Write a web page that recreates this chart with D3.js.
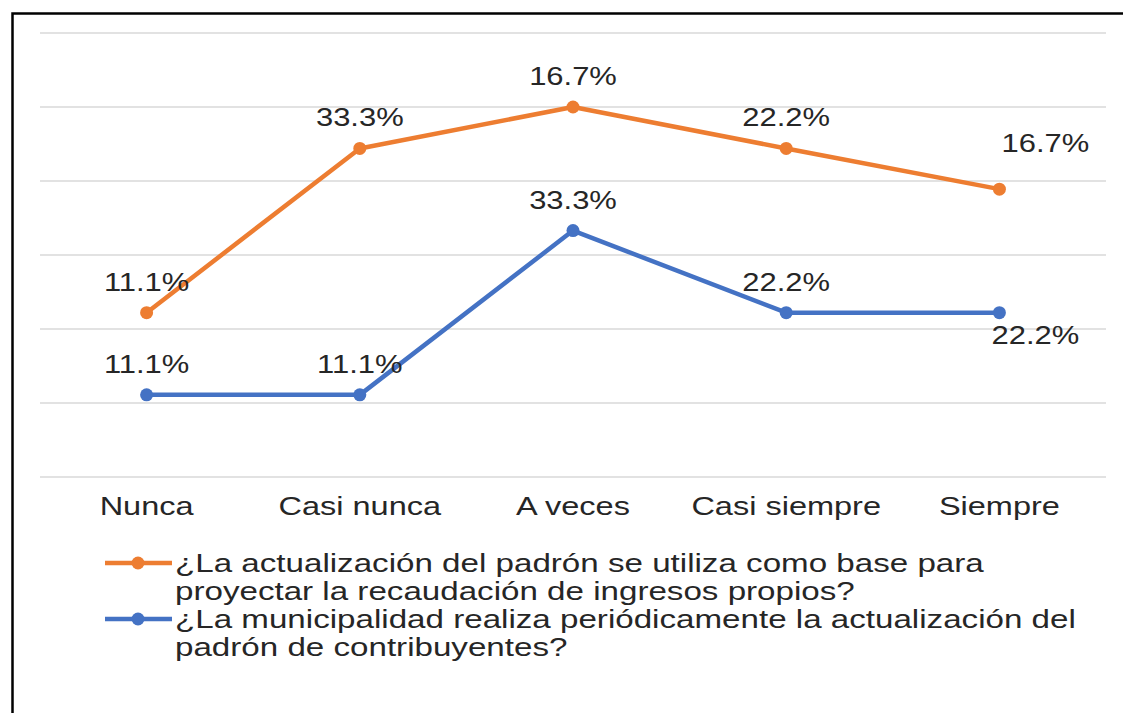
<!DOCTYPE html>
<html>
<head>
<meta charset="utf-8">
<script src="https://cdn.jsdelivr.net/npm/d3@7"></script>
<style>
  body { margin: 0; background: #fff; }
  text { font-family: "Liberation Sans", Arial, sans-serif; fill: #262626; }
</style>
</head>
<body>
<div id="chart"></div>
<script>
const categories = ['Nunca', 'Casi nunca', 'A veces', 'Casi siempre', 'Siempre']
const seriesNames = [
  ['¿La municipalidad realiza periódicamente la actualización del', 'padrón de contribuyentes?'],
  ['¿La actualización del padrón se utiliza como base para', 'proyectar la recaudación de ingresos propios?']
]
// stacked line chart: blue is the base, orange stacks on top
const municipalidad = [11.1, 11.1, 33.3, 22.2, 22.2]
const actualizacion = [11.1, 33.3, 16.7, 22.2, 16.7]
const yTicks = [0, 10, 20, 30, 40, 50, 60]
const colors = ['#4472C4', '#ED7D31']

const W = 1123, H = 713

const svg = d3.select('#chart').append('svg')
  .attr('width', W).attr('height', H)

// frame
svg.append('path')
  .attr('d', 'M12.5,' + (H + 5) + 'V13.5H' + (W + 5))
  .attr('fill', 'none').attr('stroke', '#000').attr('stroke-width', 2.5)

const x = d3.scaleBand().domain(categories).range([40, 1106])
const y = d3.scaleLinear().domain([0, 60]).range([477, 33])
const cx = d => x(d) + x.bandwidth() / 2

svg.append('g').selectAll('line')
  .data(yTicks)
  .enter().append('line')
  .attr('x1', 40).attr('x2', 1106)
  .attr('y1', d => y(d)).attr('y2', d => y(d))
  .attr('stroke', '#d9d9d9').attr('stroke-width', 1.5)

// the picture's text is stretched sideways
function stretchedText(g, px, py, str, sx, anchor) {
  var t = g.append('g')
    .attr('transform', 'translate(' + px + ',' + py + ') scale(' + sx + ',1)')
    .append('text')
    .attr('font-size', 26)
    .attr('text-anchor', anchor || 'middle')
    .text(str)
  return t
}

// category labels
const xAxis = svg.append('g')
categories.forEach(function(c) {
  stretchedText(xAxis, cx(c), 515, c, 1.25)
})

const table = categories.map((c, i) => ({cat: c, m: municipalidad[i], a: actualizacion[i]}))
const stacked = d3.stack().keys(['m', 'a'])(table)

const line = d3.line()
  .x(d => cx(d.data.cat))
  .y(d => y(d[1]))

stacked.forEach(function(s, si) {
  var g = svg.append('g')
  g.append('path')
    .datum(s)
    .attr('d', line)
    .attr('fill', 'none')
    .attr('stroke', colors[si])
    .attr('stroke-width', 4.5)
    .attr('stroke-linejoin', 'round')

  g.selectAll('circle')
    .data(s)
    .enter().append('circle')
    .attr('cx', d => cx(d.data.cat))
    .attr('cy', d => y(d[1]))
    .attr('r', 6.5)
    .attr('fill', colors[si])

  s.forEach(function(d, i) {
    var val = d[1] - d[0]
    var lx = cx(d.data.cat), ly = y(d[1]) - 22
    // last point labels were nudged in the original
    if (i == categories.length - 1) {
      if (si == 0) { lx += 36; ly = y(d[1]) + 31 }
      else { lx += 46; ly = y(d[1]) - 37 }
    }
    stretchedText(g, lx, ly, val.toFixed(1) + '%', 1.19)
  })
})

// legend (orange first)
const legend = svg.append('g')
;[1, 0].forEach(function(si, k) {
  var ly = 563 + k * 56
  legend.append('line')
    .attr('x1', 105).attr('x2', 172)
    .attr('y1', ly).attr('y2', ly)
    .attr('stroke', colors[si]).attr('stroke-width', 4.5)
  legend.append('circle')
    .attr('cx', 138).attr('cy', ly).attr('r', 6.5)
    .attr('fill', colors[si])
  seriesNames[si].forEach(function(txt, j) {
    stretchedText(legend, 175, ly + 9 + j * 28, txt, 1.275, 'start')
  })
})
</script>
</body>
</html>
